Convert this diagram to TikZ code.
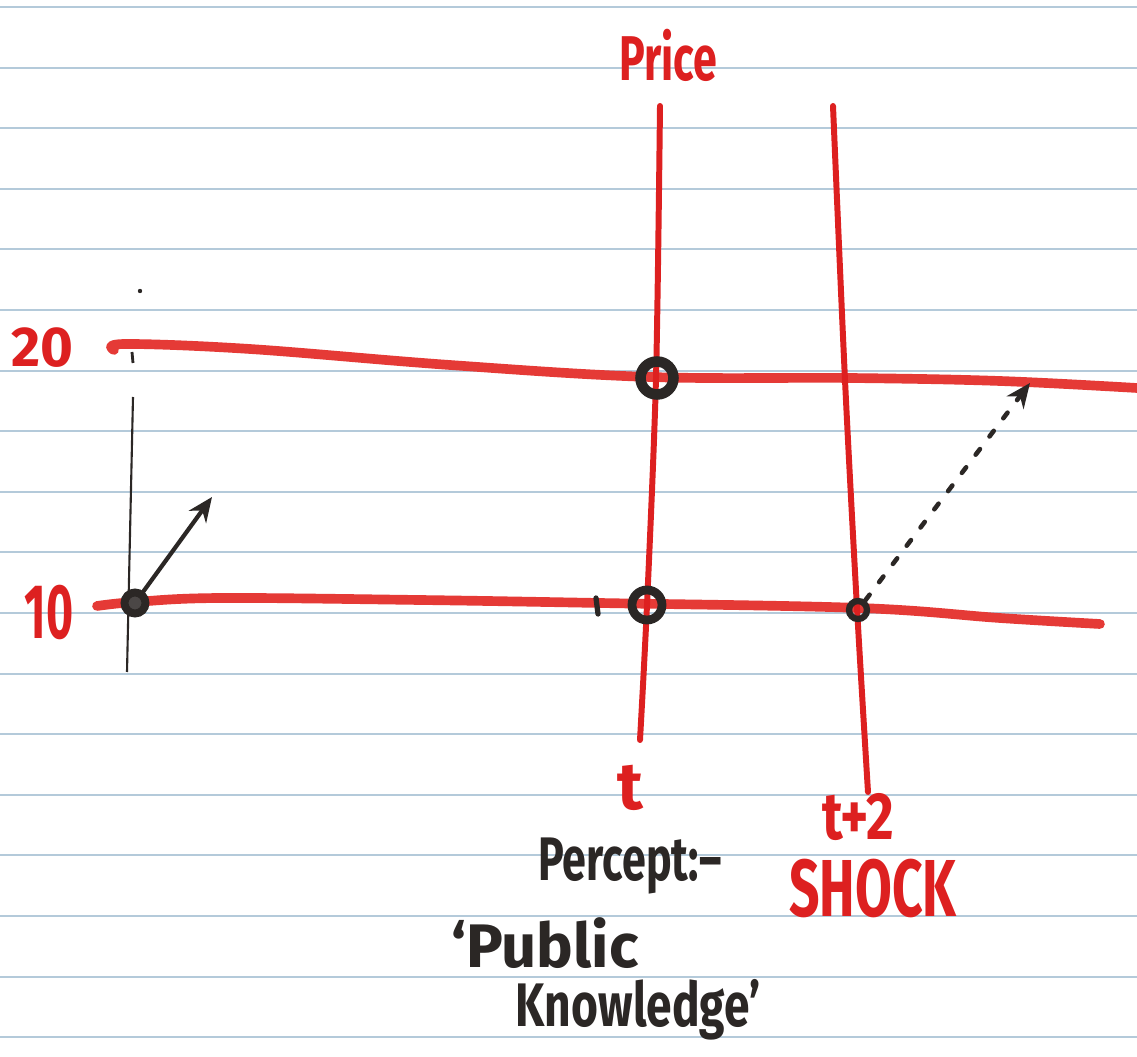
\documentclass[tikz,border=0pt]{standalone}
\usepackage{fontspec}
\setmainfont{Fira Sans}
\usetikzlibrary{arrows.meta}
\definecolor{ink}{HTML}{2B2725}
\definecolor{pen}{HTML}{DD2020}
\definecolor{penl}{HTML}{E53A36}
\definecolor{rulec}{HTML}{B4CADA}
\begin{document}
\begin{tikzpicture}[x=0.02cm,y=-0.02cm,
  ruled/.style={rulec,line width=1.1pt},
  hline/.style={penl,line width=5.5pt,line cap=round,line join=round},
  vline/.style={pen,line width=3.4pt,line cap=round,line join=round},
  ring/.style={circle,draw=ink,inner sep=0pt},
  redlab/.style={pen,font=\bfseries,inner sep=0pt},
  inklab/.style={ink,font=\bfseries,inner sep=0pt},
  arr/.style={ink,line width=2.4pt,line cap=round,-{Stealth[length=14pt,width=12pt]}},
  dotarr/.style={ink,line width=2.6pt,line cap=round,dash pattern=on 4pt off 9pt,-{Stealth[length=14pt,width=12pt]}}
]
\useasboundingbox[fill=white] (0,0) rectangle (1137,1057);
% ruled paper
\foreach \k in {0,...,17}{
  \draw[ruled] (0,{7+60.6*\k}) -- (1137,{7+60.6*\k});
}
% red curves
\draw[hline] plot[smooth,tension=0.6] coordinates {(114,350) (125,344) (250,349) (450,365) (650,377) (850,378) (1000,381) (1137,388)};
\draw[hline] plot[smooth,tension=0.6] coordinates {(97,606) (135,602) (220,598) (420,600) (600,603) (860,608) (1000,618) (1100,624)};
\draw[vline] plot[smooth,tension=0.5] coordinates {(660,106) (656,378) (647,605) (640,740)};
\draw[vline] plot[smooth,tension=0.5] coordinates {(833,106) (845,380) (857,608) (868,792)};
% thin black axis
\draw[ink,line width=1.2pt] (133,397) -- (127,672);
\draw[ink,line width=1.6pt] (132,352) -- (133,363);
\fill[ink] (140,291) circle (2.2);
\draw[ink,line width=3pt,line cap=round] (596,598) -- (598,614);
% rings
\node[ring,line width=4.5pt,minimum size=0.42cm,fill=ink!85] (r1) at (135,603) {};
\node[ring,line width=6pt,minimum size=0.66cm] (r2) at (657,378) {};
\node[ring,line width=5pt,minimum size=0.6cm] (r3) at (647,605) {};
\node[ring,line width=3.6pt,minimum size=0.36cm] (r4) at (858,610) {};
% arrows
\coordinate (a1) at (212,497);
\coordinate (a2) at (1030,383);
\draw[arr] (r1) -- (a1);
\draw[dotarr] (r4) -- (a2);
% labels
\node[redlab,font=\bfseries\fontsize{32}{32}\selectfont] (l20) at (42,348) {20};
\node[redlab,font=\bfseries\fontsize{44}{44}\selectfont,xscale=0.6] (l10) at (49,612) {10};
\node[redlab,font=\bfseries\fontsize{36}{36}\selectfont,xscale=0.68] (lprice) at (668,55) {Price};
\node[redlab,font=\bfseries\fontsize{38}{38}\selectfont] (lt) at (630,788) {t};
\node[redlab,font=\bfseries\fontsize{38}{38}\selectfont,xscale=0.8] (lt2) at (858,817) {t+2};
\node[redlab,font=\bfseries\fontsize{46}{46}\selectfont,xscale=0.66] (lshock) at (873,888) {SHOCK};
\node[inklab,font=\bfseries\fontsize{35}{35}\selectfont,xscale=0.7] (lperc) at (630,866) {Percept:–};
\node[inklab,font=\bfseries\fontsize{35}{35}\selectfont] (lpub) at (545,943) {‘Public};
\node[inklab,font=\bfseries\fontsize{35}{35}\selectfont,xscale=0.75] (lknow) at (638,1010) {Knowledge’};
\end{tikzpicture}
\end{document}
